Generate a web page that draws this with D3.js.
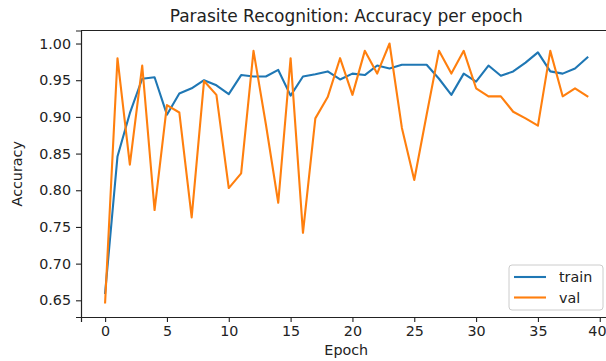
<!DOCTYPE html>
<html><head><meta charset="utf-8">
<script src="https://cdn.jsdelivr.net/npm/d3@7"></script>
<style>body{margin:0;background:#fff}svg{display:block}</style>
</head><body>
<svg id="c" width="606" height="361"></svg>
<script>
const epochs = d3.range(0, 40);
const train = [0.660,0.846,0.905,0.952,0.954,0.903,0.932,0.939,0.950,0.943,
               0.931,0.957,0.955,0.955,0.964,0.929,0.955,0.958,0.962,0.951,
               0.959,0.957,0.970,0.966,0.971,0.971,0.971,0.952,0.930,0.959,
               0.948,0.970,0.956,0.962,0.974,0.988,0.962,0.959,0.966,0.981];
const val   = [0.647,0.980,0.835,0.970,0.773,0.916,0.906,0.763,0.949,0.930,
               0.803,0.823,0.990,0.890,0.783,0.980,0.742,0.898,0.927,0.980,
               0.930,0.990,0.959,1.000,0.885,0.814,0.903,0.990,0.959,0.990,
               0.939,0.928,0.928,0.907,0.898,0.888,0.990,0.928,0.939,0.928];
const xTicks = [0,5,10,15,20,25,30,35,40];
const yTicks = [0.65,0.70,0.75,0.80,0.85,0.90,0.95,1.00];
const seriesNames = ["train","val"];
const colors = ["#1f77b4","#ff7f0e"];

const svg = d3.select("#c");
const L = 81, R = 611.5, T = 30.5, B = 317;
const x = d3.scaleLinear().domain([-1.95, 40.95]).range([L, R]);
const y = d3.scaleLinear().domain([0.62725, 1.01775]).range([B, T]);
const font = "DejaVu Sans, sans-serif";

// series
const line = d3.line().x((d,i)=>x(epochs[i])).y(d=>y(d));
[train, val].forEach((s,k)=>{
  svg.append("path").datum(s).attr("d", line).attr("fill","none")
    .attr("stroke", colors[k]).attr("stroke-width", 2.1)
    .attr("stroke-linejoin","round").attr("stroke-linecap","square");
});

// axes
const xa = svg.append("g").attr("transform",`translate(0,${B})`)
  .call(d3.axisBottom(x).tickValues(xTicks).tickFormat(d3.format("d")).tickSizeOuter(0).tickSize(5).tickPadding(4));
const ya = svg.append("g").attr("transform",`translate(${L},0)`)
  .call(d3.axisLeft(y).tickValues(yTicks).tickFormat(d3.format(".2f")).tickSizeOuter(0).tickSize(5).tickPadding(5));
[xa, ya].forEach(g=>{
  g.selectAll("text").attr("font-family", font).attr("font-size", 14.3).attr("fill","#222");
  g.selectAll("line").attr("stroke","#222").attr("stroke-width",1.1);
  g.select(".domain").attr("stroke","#222").attr("stroke-width",1.2);
});
// keep the last x tick label inside the page edge
xa.selectAll(".tick").filter(d=>d===40).select("text")
  .attr("text-anchor","end").attr("x", 606 - x(40));
// top spine
svg.append("line").attr("x1",L).attr("x2",R).attr("y1",T).attr("y2",T)
  .attr("stroke","#222").attr("stroke-width",1.2);

// title & labels
svg.append("text").attr("x",(L+R)/2).attr("y",22).attr("text-anchor","middle")
  .attr("font-family",font).attr("font-size",17).attr("fill","#222")
  .text("Parasite Recognition: Accuracy per epoch");
svg.append("text").attr("x",(L+R)/2).attr("y",355).attr("text-anchor","middle")
  .attr("font-family",font).attr("font-size",14.3).attr("fill","#222").text("Epoch");
svg.append("text").attr("transform",`translate(22,${(T+B)/2}) rotate(-90)`).attr("text-anchor","middle")
  .attr("font-family",font).attr("font-size",14.3).attr("fill","#222").text("Accuracy");

// legend
const lg = svg.append("g");
lg.append("rect").attr("x",509).attr("y",265).attr("width",94).attr("height",45).attr("rx",3)
  .attr("fill","#fff").attr("fill-opacity",0.8).attr("stroke","#ccc").attr("stroke-width",1);
seriesNames.forEach((n,k)=>{
  const yy = 277 + k*20.5;
  lg.append("line").attr("x1",514).attr("x2",546).attr("y1",yy).attr("y2",yy)
    .attr("stroke",colors[k]).attr("stroke-width",2.1);
  lg.append("text").attr("x",559).attr("y",yy+5).attr("font-family",font).attr("font-size",14.3)
    .attr("fill","#222").text(n);
});
</script>
</body></html>
